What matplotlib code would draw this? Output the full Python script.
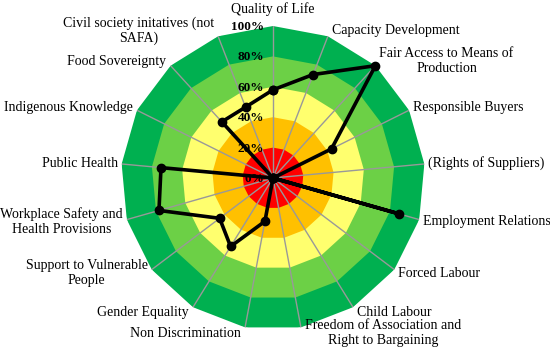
import numpy as np
import matplotlib
matplotlib.use('Agg')
import matplotlib.pyplot as plt

# SAFA social themes, clockwise from the top
categories = ['Quality of Life', 'Capacity Development',
              'Fair Access to Means of\nProduction', 'Responsible Buyers',
              '(Rights of Suppliers)', 'Employment Relations', 'Forced Labour',
              'Child Labour', 'Freedom of Association and\nRight to Bargaining',
              'Non Discrimination', 'Gender Equality',
              'Support to Vulnerable\nPeople',
              'Workplace Safety and\nHealth Provisions', 'Public Health',
              'Indigenous Knowledge', 'Food Sovereignty',
              'Civil society initatives (not\nSAFA)']
scores = [58, 73, 100, 43, 0, 86, 0, 0, 0, 29, 53, 44, 78, 74, 0, 50, 50]

band_levels = [100, 80, 60, 40, 20]
band_colors = ['#00B050', '#6CD046', '#FFFF6E', '#FFC000', '#FF0000']
tick_values = [0, 20, 40, 60, 80, 100]

plt.rcParams['font.family'] = ['Liberation Serif', 'DejaVu Serif']

n = len(categories)
theta = np.linspace(0, 2 * np.pi, n, endpoint=False)
theta_closed = np.append(theta, theta[0])

fig = plt.figure(figsize=(5.5, 3.54), dpi=100)
cx, cy, R = 273, 178, 152
ax = fig.add_axes([(cx - R) / 550, (354 - cy - R) / 354, 2 * R / 550, 2 * R / 354],
                  projection='polar')
ax.set_theta_zero_location('N')
ax.set_theta_direction(-1)
ax.set_ylim(0, 100)
ax.axis('off')

# coloured bands
for level, col in zip(band_levels, band_colors):
    ax.fill(theta_closed, [level] * (n + 1), color=col, lw=0, zorder=1)

# spokes
for t in theta:
    ax.plot([t, t], [0, 100], color='#999999', lw=1, zorder=2)

# data line
vals = scores + scores[:1]
ax.plot(theta_closed, vals, color='black', lw=2.6, marker='o', ms=6,
        zorder=4, clip_on=False)

# percentage labels on the top spoke
for v in tick_values:
    ax.annotate(f'{v}%', xy=(0, v), xytext=(-9, -1), textcoords='offset pixels',
                ha='right', va='center', fontsize=9.5, fontweight='bold', zorder=5)

# category labels
for t, lab in zip(theta, categories):
    s, c = np.sin(t), np.cos(t)
    if abs(s) < 0.05:
        ha, dx, dy, va = 'center', 0, 10, 'bottom'
    else:
        ha = 'left' if s > 0 else 'right'
        dx = 4 if s > 0 else -4
        dy = 6 * c
        va = 'center'
    ax.annotate(lab, xy=(t, 100), xytext=(dx, dy), textcoords='offset pixels',
                ha=ha, va=va, multialignment='center', fontsize=10,
                annotation_clip=False)

fig.savefig('out.png', dpi=100)
